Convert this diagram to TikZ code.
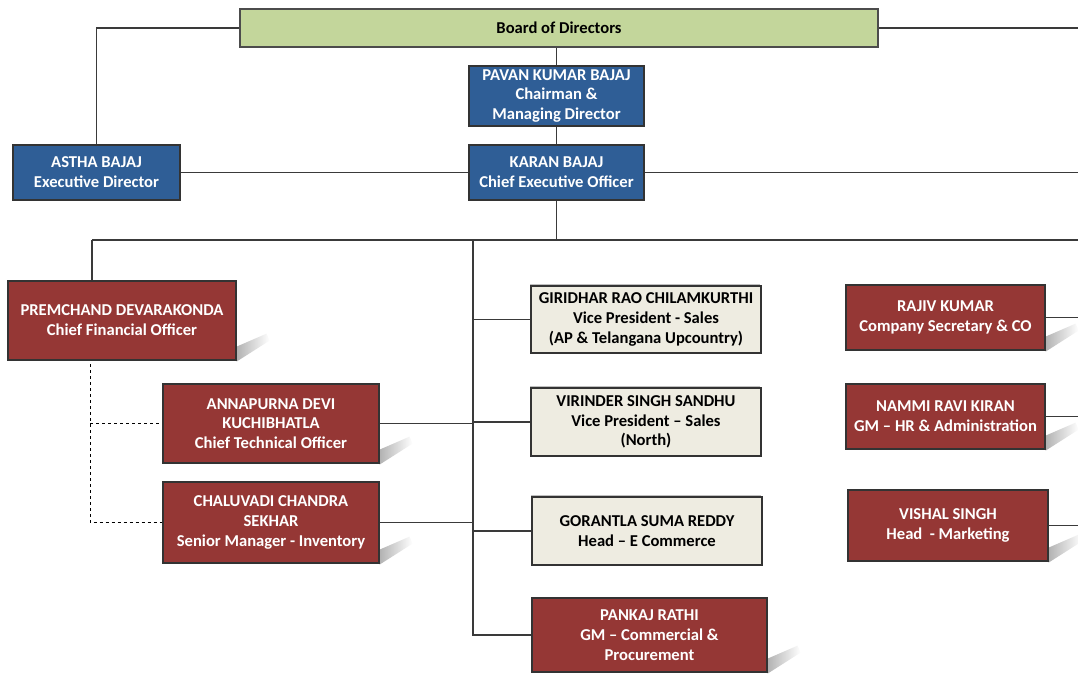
\documentclass[tikz,border=0pt]{standalone}
\usepackage{fontspec}
\setmainfont{Carlito}
\usetikzlibrary{calc,backgrounds,fadings,shadows}
\definecolor{orgBlue}{HTML}{2F5E96}
\definecolor{orgRed}{HTML}{953735}
\definecolor{orgSand}{HTML}{EEECE1}
\definecolor{orgLeaf}{HTML}{C3D69B}
\definecolor{orgLine}{HTML}{3A3A3A}

\begin{document}
\begin{tikzpicture}[x=1pt,y=-1pt,
    font=\fontsize{16.6}{19.8}\selectfont\bfseries,
    box/.style={draw=black!80,line width=1.2pt,align=center,inner sep=2pt},
    board/.style={box,fill=orgLeaf,draw=black!70,minimum width=638pt,minimum height=38pt},
    exec/.style={box,fill=orgBlue,text=white},
    head/.style={box,fill=orgRed,text=white},
    sales/.style={box,fill=orgSand,text=black,
                  drop shadow={shadow xshift=-1.5pt,shadow yshift=2.5pt,fill=black,opacity=.25}},
    link/.style={draw=orgLine,line width=1.1pt}]
  \useasboundingbox (0,0) rectangle (1078,673);

  % top of the chart
  \node[board] (board) at (559,28) {Board of Directors};
  \node[exec,minimum width=175pt,minimum height=60pt] (pavan) at (556.5,96)
       {PAVAN KUMAR BAJAJ\\Chairman \&\\Managing Director};
  \node[exec,minimum width=175pt,minimum height=55pt] (karan) at (556.5,172.5)
       {KARAN BAJAJ\\Chief Executive Officer};
  \node[exec,minimum width=167pt,minimum height=55pt] (astha) at (96.5,172.5)
       {ASTHA BAJAJ\\Executive Director};

  % left column
  \node[head,minimum width=228pt,minimum height=79pt] (premchand) at (122,320.5)
       {PREMCHAND DEVARAKONDA\\Chief Financial Officer};
  \node[head,minimum width=216pt,minimum height=79pt] (annapurna) at (271,423.5)
       {ANNAPURNA DEVI\\KUCHIBHATLA\\Chief Technical Officer};
  \node[head,minimum width=216pt,minimum height=81pt] (chaluvadi) at (271,522.5)
       {CHALUVADI CHANDRA\\SEKHAR\\Senior Manager - Inventory};

  % middle column
  \node[sales,minimum width=230pt,minimum height=67pt] (giridhar) at (646,319.5)
       {GIRIDHAR RAO CHILAMKURTHI\\Vice President - Sales\\(AP \& Telangana Upcountry)};
  \node[sales,minimum width=230pt,minimum height=68pt] (virinder) at (646,422)
       {VIRINDER SINGH SANDHU\\Vice President -- Sales\\(North)};
  \node[sales,minimum width=230pt,minimum height=68pt] (gorantla) at (647,531)
       {GORANTLA SUMA REDDY\\Head -- E Commerce};
  \node[head,minimum width=235pt,minimum height=74pt] (pankaj) at (649.5,635)
       {PANKAJ RATHI\\GM -- Commercial \&\\Procurement};

  % right column
  \node[head,minimum width=199pt,minimum height=65pt] (rajiv) at (945.5,317.5)
       {RAJIV KUMAR\\Company Secretary \& CO};
  \node[head,minimum width=199pt,minimum height=65pt] (nammi) at (945.5,416.5)
       {NAMMI RAVI KIRAN\\GM -- HR \& Administration};
  \node[head,minimum width=200pt,minimum height=71pt] (vishal) at (948,525.5)
       {VISHAL SINGH\\Head\ \ - Marketing};

  % shadows of the red boxes
  \begin{scope}[on background layer]
    \foreach \n in {premchand,annapurna,chaluvadi,pankaj,rajiv,nammi,vishal}
      \fill[black!30,path fading=east]
        ($(\n.south east)+(0,1)$) -- ($(\n.south east)+(0,-14)$)
        -- ($(\n.south east)+(30,-27)$) -- ($(\n.south east)+(33,-20)$) -- cycle;
  \end{scope}

  % connectors
  \coordinate (edge) at (1078,0);
  \coordinate (busL) at (92,240);
  \coordinate (trunk) at (473,240);
  \coordinate (dash) at (90,364);
  \begin{scope}[on background layer]
    \draw[link] (astha.north) |- (board.west);
    \draw[link] (board.east) -- (board.east -| edge);
    \draw[link] (pavan.north |- board.south) -- (pavan.north);
    \draw[link] (pavan.south) -- (karan.north);
    \draw[link] (astha.east) -- (karan.west);
    \draw[link] (karan.east) -- (karan.east -| edge);
    \draw[link] (karan.south) -- (karan.south |- busL);
    \draw[link] (busL) -- (busL -| edge);
    \draw[link] (busL) -- (busL |- premchand.north);
    \draw[link] (trunk) |- (pankaj.west);
    \draw[link] (giridhar.west) -- (giridhar.west -| trunk);
    \draw[link] (annapurna.east) -- (annapurna.east -| trunk);
    \draw[link] (virinder.west) -- (virinder.west -| trunk);
    \draw[link] (chaluvadi.east) -- (chaluvadi.east -| trunk);
    \draw[link] (gorantla.west) -- (gorantla.west -| trunk);
    \draw[link] (rajiv.east) -- (rajiv.east -| edge);
    \draw[link] (nammi.east) -- (nammi.east -| edge);
    \draw[link] (vishal.east) -- (vishal.east -| edge);
    \draw[link,dashed,line width=.9pt,draw=black] (dash) |- (chaluvadi.west);
    \draw[link,dashed,line width=.9pt,draw=black] (dash |- annapurna.west) -- (annapurna.west);
  \end{scope}
\end{tikzpicture}
\end{document}
